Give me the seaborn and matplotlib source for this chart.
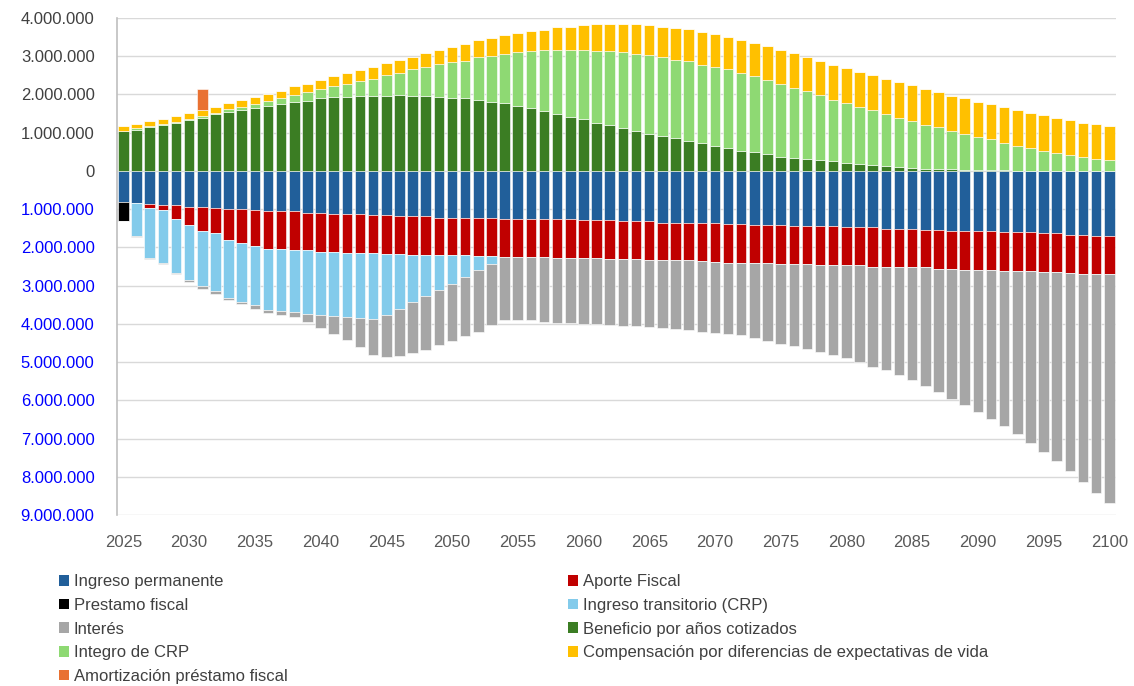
import numpy as np
import pandas as pd
import seaborn as sns
import matplotlib.pyplot as plt
from matplotlib.patches import Patch
from matplotlib.ticker import FuncFormatter

years = list(range(2025, 2101))

# values in millions
ingreso_permanente = [
    0.81, 0.84, 0.87, 0.90, 0.90, 0.95, 0.95, 0.965, 1.00, 1.00,
    1.035, 1.06, 1.06, 1.06, 1.10, 1.10, 1.13, 1.13, 1.13, 1.16,
    1.16, 1.19, 1.19, 1.19, 1.23, 1.23, 1.23, 1.23, 1.23, 1.26,
    1.26, 1.26, 1.26, 1.26, 1.26, 1.28, 1.29, 1.29, 1.32, 1.32,
    1.32, 1.35, 1.35, 1.35, 1.35, 1.37, 1.38, 1.38, 1.42, 1.42,
    1.42, 1.44, 1.44, 1.44, 1.44, 1.48, 1.48, 1.48, 1.51, 1.51,
    1.51, 1.54, 1.54, 1.57, 1.57, 1.57, 1.57, 1.61, 1.61, 1.61,
    1.63, 1.63, 1.67, 1.68, 1.70, 1.70]
aporte_fiscal = [
    0.0, 0.0, 0.095, 0.135, 0.35, 0.46, 0.615, 0.67, 0.80, 0.89,
    0.925, 0.98, 0.98, 1.02, 0.98, 1.01, 0.98, 1.01, 1.01, 0.98,
    1.01, 0.98, 1.02, 1.02, 0.98, 0.98, 0.98, 1.00, 1.00, 0.98,
    0.98, 0.98, 0.98, 1.01, 1.01, 0.99, 0.98, 1.01, 0.98, 0.98,
    1.01, 0.98, 0.98, 0.98, 1.01, 1.00, 1.02, 1.02, 0.98, 0.99,
    1.01, 0.99, 0.99, 1.02, 1.02, 0.98, 0.98, 1.02, 0.99, 1.01,
    1.01, 0.98, 1.02, 0.99, 1.01, 1.01, 1.01, 1.00, 1.00, 1.00,
    1.01, 1.01, 1.00, 1.01, 0.99, 0.99]
prestamo_fiscal = [0.49] + [0.0] * 75
ingreso_transitorio = [
    0.0, 0.86, 1.315, 1.375, 1.41, 1.43, 1.435, 1.495, 1.52, 1.53,
    1.55, 1.60, 1.63, 1.62, 1.65, 1.66, 1.68, 1.68, 1.71, 1.74,
    1.60, 1.44, 1.23, 1.07, 0.91, 0.76, 0.56, 0.35, 0.20] + [0.0] * 47
interes = [
    0.0, 0.04, 0.03, 0.025, 0.04, 0.06, 0.10, 0.09, 0.05, 0.05,
    0.09, 0.08, 0.11, 0.12, 0.21, 0.33, 0.47, 0.59, 0.75, 0.94,
    1.09, 1.22, 1.33, 1.39, 1.43, 1.48, 1.55, 1.62, 1.60, 1.65,
    1.67, 1.67, 1.71, 1.70, 1.70, 1.72, 1.72, 1.72, 1.75, 1.75,
    1.76, 1.77, 1.81, 1.84, 1.84, 1.86, 1.86, 1.90, 1.97, 2.05,
    2.09, 2.15, 2.22, 2.28, 2.34, 2.44, 2.54, 2.62, 2.71, 2.82,
    2.95, 3.11, 3.23, 3.39, 3.53, 3.71, 3.90, 4.07, 4.28, 4.51,
    4.70, 4.95, 5.17, 5.44, 5.73, 6.00]
beneficio = [
    1.035, 1.08, 1.14, 1.20, 1.25, 1.34, 1.38, 1.49, 1.54, 1.58,
    1.64, 1.70, 1.74, 1.80, 1.835, 1.90, 1.93, 1.93, 1.955, 1.955,
    1.955, 1.99, 1.95, 1.95, 1.92, 1.90, 1.90, 1.86, 1.79, 1.765,
    1.70, 1.64, 1.57, 1.48, 1.41, 1.35, 1.25, 1.19, 1.13, 1.035,
    0.975, 0.905, 0.85, 0.775, 0.72, 0.65, 0.59, 0.53, 0.50, 0.435,
    0.375, 0.34, 0.305, 0.28, 0.245, 0.21, 0.175, 0.15, 0.12, 0.095,
    0.087, 0.045, 0.045, 0.045, 0.02, 0.02, 0.02, 0.01, 0.0, 0.0,
    0.0, 0.0, 0.0, 0.0, 0.0, 0.0]
integro_crp = [
    0.0, 0.03, 0.025, 0.035, 0.04, 0.025, 0.045, 0.02, 0.07, 0.09,
    0.10, 0.135, 0.16, 0.19, 0.225, 0.25, 0.29, 0.35, 0.385, 0.445,
    0.545, 0.575, 0.70, 0.76, 0.87, 0.95, 0.98, 1.11, 1.22, 1.295,
    1.40, 1.49, 1.59, 1.68, 1.75, 1.81, 1.88, 1.94, 1.97, 2.025,
    2.06, 2.06, 2.05, 2.095, 2.06, 2.06, 2.06, 2.03, 1.97, 1.93,
    1.905, 1.83, 1.78, 1.71, 1.615, 1.555, 1.495, 1.43, 1.37, 1.295,
    1.213, 1.155, 1.095, 1.00, 0.955, 0.87, 0.80, 0.71, 0.66, 0.60,
    0.53, 0.47, 0.41, 0.375, 0.31, 0.28]
compensacion = [
    0.13, 0.125, 0.13, 0.13, 0.135, 0.145, 0.155, 0.16, 0.155, 0.17,
    0.18, 0.185, 0.195, 0.22, 0.22, 0.215, 0.25, 0.285, 0.29, 0.32,
    0.32, 0.345, 0.32, 0.36, 0.375, 0.38, 0.44, 0.44, 0.47, 0.48,
    0.51, 0.53, 0.53, 0.605, 0.605, 0.64, 0.70, 0.70, 0.73, 0.77,
    0.765, 0.80, 0.83, 0.83, 0.855, 0.86, 0.86, 0.86, 0.88, 0.895,
    0.885, 0.90, 0.885, 0.89, 0.92, 0.925, 0.92, 0.92, 0.91, 0.92,
    0.94, 0.95, 0.91, 0.915, 0.925, 0.91, 0.92, 0.95, 0.92, 0.91,
    0.92, 0.92, 0.91, 0.885, 0.925, 0.885]
amortizacion = [0.0] * 6 + [0.55] + [0.0] * 69

# (name, values, colour) in stacking order from zero outwards
negativos = [
    ("Ingreso permanente", ingreso_permanente, "#215F9A"),
    ("Aporte Fiscal", aporte_fiscal, "#C00000"),
    ("Prestamo fiscal", prestamo_fiscal, "#000000"),
    ("Ingreso transitorio (CRP)", ingreso_transitorio, "#83CBEB"),
    ("Interés", interes, "#A6A6A6"),
]
positivos = [
    ("Beneficio por años cotizados", beneficio, "#3B7D23"),
    ("Integro de CRP", integro_crp, "#8ED973"),
    ("Compensación por diferencias de expectativas de vida", compensacion, "#FFC000"),
    ("Amortización préstamo fiscal", amortizacion, "#E97132"),
]

sns.set_theme(style="white")
plt.rcParams['font.family'] = ['Liberation Sans', 'DejaVu Sans']

fig = plt.figure(figsize=(11.34, 6.86), dpi=100)
ax = fig.add_axes([0.103, 0.249, 0.881, 0.725])

for grupo, signo in [(negativos, -1), (positivos, 1)]:
    base = np.zeros(len(years))
    for name, vals, color in grupo:
        v = signo * np.array(vals) * 1e6
        sns.barplot(x=years, y=v, bottom=base, color=color, width=0.8,
                    native_scale=True, saturation=1, errorbar=None,
                    edgecolor="#ffffff", linewidth=0.4, ax=ax)
        base = base + v

ax.set_xlim(2024.5, 2100.5)
ax.set_ylim(-9e6, 4e6)
ax.set_yticks(np.arange(-9e6, 4.1e6, 1e6))
ax.yaxis.set_major_formatter(FuncFormatter(lambda y, p: f"{abs(y):,.0f}".replace(",", ".")))
ax.set_xticks(range(2025, 2101, 5))
ax.xaxis.set_tick_params(labelsize=12, length=0, pad=14)
ax.yaxis.set_tick_params(labelsize=12, length=0, pad=16)
for lab, t in zip(ax.get_yticklabels(), ax.get_yticks()):
    if t < 0:
        lab.set_color("#0000FF")
    else:
        lab.set_color("#404040")
for lab in ax.get_xticklabels():
    lab.set_color("#595959")
ax.set_xlabel("")
ax.set_ylabel("")
ax.grid(axis="y", color="#D9D9D9", linewidth=1)
ax.set_axisbelow(True)
for s in ["top", "right", "bottom"]:
    ax.spines[s].set_visible(False)
ax.spines["left"].set_color("#BFBFBF")
ax.spines["left"].set_linewidth(1.2)

todos = negativos + positivos
col1 = [todos[i] for i in [0, 2, 4, 6, 8]]
col2 = [todos[i] for i in [1, 3, 5, 7]]
for col, xpos in [(col1, 0.052), (col2, 0.501)]:
    handles = [Patch(facecolor=c, edgecolor="none") for _, _, c in col]
    labels = [n for n, _, _ in col]
    fig.legend(handles, labels, loc="upper left", bbox_to_anchor=(xpos, 0.163),
               frameon=False, fontsize=12, labelcolor="#404040",
               handlelength=0.6, handleheight=0.6, handletextpad=0.3,
               labelspacing=0.52, borderpad=0, borderaxespad=0)

plt.savefig("out.png", dpi=100)
